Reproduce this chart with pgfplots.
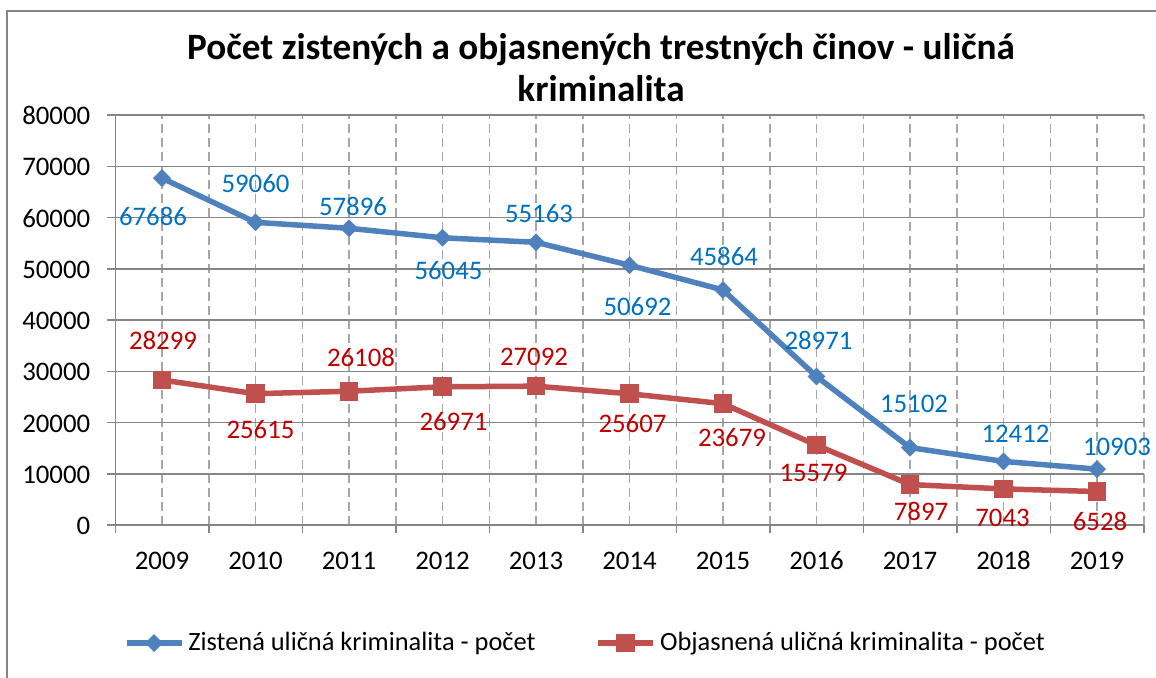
\documentclass[border=0pt]{standalone}
\usepackage{pgfplots}
\pgfplotsset{compat=1.18}
\usepackage{pgfplotstable}
\usepackage{fontspec}
\setmainfont{Carlito}
\definecolor{blueS}{HTML}{4F81BD}
\definecolor{redS}{HTML}{C0504D}
\definecolor{blueL}{HTML}{0070C0}
\definecolor{redL}{HTML}{C00000}
\definecolor{gridc}{HTML}{868686}
\definecolor{dashc}{HTML}{A6A6A6}

\pgfplotstableread{
x y dx dy
0 67686 -4.5 -19
1 59060 0 19.5
2 57896 2 11
3 56045 3 -16.5
4 55163 1.5 14.5
5 50692 4 -20.5
6 45864 0.5 17
7 28971 1 18
8 15102 2 22
9 12412 6 14
10 10903 10 11
}\blueT

\pgfplotstableread{
x y dx dy
0 28299 0.5 20
1 25615 2.5 -18
2 26108 6 17
3 26971 5.5 -17.5
4 27092 -1 14.5
5 25607 1.5 -15
6 23679 4.5 -17
7 15579 -1.5 -14
8 7897 5.5 -13.5
9 7043 -0.5 -14.5
10 6528 1.5 -15
}\redT

\begin{document}
\begin{tikzpicture}
\path[use as bounding box] (0,0) rectangle (578pt,338.5pt);
\draw[gridc, line width=0.75pt] (3.5pt,-5pt) -- (3.5pt,333pt) -- (590pt,333pt);
\node[font=\bfseries\fontsize{18.6}{21}\selectfont, align=center] at (300.5pt,304.75pt)
  {Počet zistených a objasnených trestných činov - uličná\\kriminalita};
\begin{axis}[
  at={(57.625pt,76pt)}, anchor=south west,
  scale only axis, width=514.25pt, height=205pt,
  xmin=-0.5, xmax=10.5, ymin=0, ymax=80000,
  clip=false,
  axis x line*=bottom, axis y line*=left,
  axis line style={gridc, line width=0.75pt},
  xtick={-0.5,0.5,1.5,2.5,3.5,4.5,5.5,6.5,7.5,8.5,9.5,10.5},
  x tick label as interval,
  xticklabels={2009,2010,2011,2012,2013,2014,2015,2016,2017,2018,2019},
  minor xtick={0,1,2,3,4,5,6,7,8,9,10},
  ytick={0,10000,20000,30000,40000,50000,60000,70000,80000},
  scaled y ticks=false,
  /pgf/number format/.cd, fixed, 1000 sep={}, assume math mode=true, /pgfplots/.cd,
  xmajorgrids, xminorgrids, ymajorgrids,
  major x grid style={dashc, line width=0.75pt, dash pattern=on 4.5pt off 2.5pt},
  minor x grid style={dashc, line width=0.75pt, dash pattern=on 4.5pt off 2.5pt},
  major y grid style={gridc, line width=0.75pt},
  tick align=outside, major tick length=4pt, minor tick length=0pt,
  tick style={gridc, line width=0.75pt},
  xtick pos=bottom, ytick pos=left,
  tick label style={font=\fontsize{13.4}{15}\selectfont, text=black},
  yticklabel style={xshift=-5pt, text height=9.5pt, text depth=0pt},
  xticklabel style={yshift=-5pt, text height=9.5pt, text depth=0pt},
  legend columns=2,
  legend style={draw=none, fill=none, at={(0.458,-0.288)}, anchor=center,
    font=\fontsize{13.2}{15}\selectfont,
    /tikz/every even column/.append style={column sep=28pt},
    cells={anchor=west, inner xsep=1.5pt}},
  legend image code/.code={\draw[mark repeat=2,mark phase=2,#1] plot coordinates {(0pt,0pt)(13.75pt,0pt)(27.5pt,0pt)};},
]
\addplot[blueS, line width=2.75pt, mark=square*, mark size=2.9pt,
  mark options={rotate=45, line width=0.5pt, fill=blueS},
  nodes near coords, point meta=explicit symbolic,
  visualization depends on={\thisrow{dx} \as \dx},
  visualization depends on={\thisrow{dy} \as \dy},
  every node near coord/.append style={anchor=center, xshift=\dx pt, yshift=\dy pt,
    font=\fontsize{13.4}{15}\selectfont, text=blueL, inner sep=0pt}]
  table[x=x, y=y, meta=y] {\blueT};
\addlegendentry{Zistená uličná kriminalita - počet}
\addplot[redS, line width=2.75pt, mark=square*, mark size=4.4pt,
  mark options={line width=0.5pt, fill=redS},
  nodes near coords, point meta=explicit symbolic,
  visualization depends on={\thisrow{dx} \as \dx},
  visualization depends on={\thisrow{dy} \as \dy},
  every node near coord/.append style={anchor=center, xshift=\dx pt, yshift=\dy pt,
    font=\fontsize{13.4}{15}\selectfont, text=redL, inner sep=0pt}]
  table[x=x, y=y, meta=y] {\redT};
\addlegendentry{Objasnená uličná kriminalita - počet}
\end{axis}
\end{tikzpicture}
\end{document}
